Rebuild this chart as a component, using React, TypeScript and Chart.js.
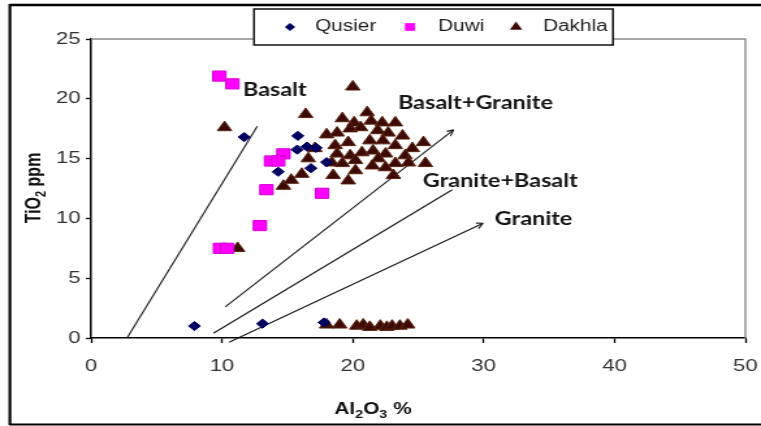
import React, { useEffect, useRef } from "react";
import { Chart, registerables } from "chart.js";

Chart.register(...registerables);

// ---------- data ----------
const seriesNames = ["Qusier", "Duwi", "Dakhla"];

const qusierX = [7.9, 13.1, 17.8, 11.7, 15.8, 15.75, 16.5, 17.2, 14.3, 16.8, 18.0];
const qusierY = [1.0, 1.2, 1.3, 16.8, 16.9, 15.75, 16.0, 15.9, 13.9, 14.2, 14.7];

const duwiX = [9.8, 10.8, 14.7, 13.75, 14.3, 13.4, 17.65, 12.9, 9.85, 10.4];
const duwiY = [21.9, 21.25, 15.4, 14.8, 14.8, 12.4, 12.1, 9.4, 7.5, 7.5];

const dakhlaX = [
  10.2, 11.2, 20.0, 14.7, 15.3, 16.1,
  16.4, 19.2, 21.1, 20.1, 21.4, 22.25, 23.25,
  18.0, 18.8, 19.8, 20.6, 21.9, 22.7, 23.8, 25.4,
  17.1, 18.65, 19.65, 21.3, 22.3, 23.25, 24.55,
  18.8, 19.8, 20.7, 21.55, 22.5, 24.0, 25.55,
  16.6, 18.4, 19.2, 20.2, 21.95, 23.25, 24.25,
  18.5, 20.2, 21.5, 22.5, 23.1, 19.65,
  18.0, 19.0, 20.3, 20.8, 21.3, 22.1, 22.6, 23.0, 23.6, 24.2,
];
const dakhlaY = [
  17.6, 7.5, 21.0, 12.7, 13.2, 13.7,
  18.7, 18.35, 18.85, 18.0, 18.15, 18.0, 18.0,
  17.0, 17.15, 17.5, 17.6, 17.35, 17.15, 16.9, 16.35,
  15.85, 16.1, 16.35, 16.5, 16.5, 16.1, 15.85,
  15.4, 15.25, 15.5, 15.65, 15.4, 15.25, 14.6,
  15.0, 14.65, 14.6, 14.85, 15.0, 14.6, 14.65,
  13.6, 14.0, 14.4, 14.25, 13.6, 13.15,
  1.1, 1.1, 1.0, 1.1, 0.9, 1.0, 0.9, 1.0, 1.0, 1.1,
];

// guide lines: [x1, y1, x2, y2]
const lineBasalt = [2.75, 0, 12.7, 17.7];
const lineBasaltGranite = [10.25, 2.6, 27.7, 17.4];
const lineGraniteBasalt = [9.35, 0.4, 27.6, 12.4];
const lineGranite = [10.55, -0.35, 29.95, 9.6];
const guideLines = [lineBasalt, lineBasaltGranite, lineGraniteBasalt, lineGranite];
const guideArrows = [false, true, false, true];

const regionLabels = ["Basalt", "Basalt+Granite", "Granite+Basalt", "Granite"];
const regionLabelX = [11.6, 23.45, 25.35, 30.85];
const regionLabelY = [20.75, 19.6, 13.15, 9.9];

const xTicks = [0, 10, 20, 30, 40, 50];
const yTicks = [0, 5, 10, 15, 20, 25];

// ---------- layout ----------
const CW = 585; // canvas drawing width; shown stretched to 761 px like the reference
const CH = 426;
const S = 761 / CW;

const QUSIER_COLOR = "#000060";
const DUWI_COLOR = "#ff00ff";
const DAKHLA_COLOR = "#3c0a02";

function pts(xs: number[], ys: number[]) {
  return xs.map((x, i) => ({ x, y: ys[i] }));
}

function drawSubText(
  ctx: CanvasRenderingContext2D,
  parts: [string, boolean][],
  x: number,
  y: number,
  size: number,
  family: string
) {
  const big = `bold ${size}px ${family}`;
  const small = `bold ${Math.round(size * 0.7)}px ${family}`;
  let total = 0;
  for (const [t, sub] of parts) {
    ctx.font = sub ? small : big;
    total += ctx.measureText(t).width;
  }
  let cx = x - total / 2;
  ctx.textAlign = "left";
  ctx.textBaseline = "alphabetic";
  for (const [t, sub] of parts) {
    ctx.font = sub ? small : big;
    ctx.fillText(t, cx, sub ? y + size * 0.22 : y);
    cx += ctx.measureText(t).width;
  }
}

const decorPlugin = {
  id: "decor",
  beforeDraw(chart: any) {
    const { ctx } = chart;
    ctx.save();
    ctx.fillStyle = "#ffffff";
    ctx.fillRect(0, 0, chart.width, chart.height);
    ctx.restore();
  },
  afterDraw(chart: any) {
    const { ctx } = chart;
    const { left, right, top, bottom } = chart.chartArea;
    const xs = chart.scales.x;
    const ys = chart.scales.y;
    ctx.save();

    // plot area top / right border
    ctx.strokeStyle = "#8c8c8c";
    ctx.lineWidth = 1.4;
    ctx.beginPath();
    ctx.moveTo(left, top);
    ctx.lineTo(right, top);
    ctx.lineTo(right, bottom);
    ctx.stroke();

    // arrow heads
    ctx.strokeStyle = "#1a1a1a";
    ctx.lineWidth = 1.1;
    chart.data.datasets.forEach((ds: any, i: number) => {
      if (!ds.arrow) return;
      const meta = chart.getDatasetMeta(i);
      const p0 = meta.data[0];
      const p1 = meta.data[meta.data.length - 1];
      const dx = (p1.x - p0.x) * S;
      const dy = p1.y - p0.y;
      const a = Math.atan2(dy, dx);
      const L = 7;
      ctx.beginPath();
      for (const da of [0.45, -0.45]) {
        const hx = Math.cos(a + Math.PI + da) * L;
        const hy = Math.sin(a + Math.PI + da) * L;
        ctx.moveTo(p1.x, p1.y);
        ctx.lineTo(p1.x + hx / S, p1.y + hy);
      }
      ctx.stroke();
    });

    // region labels
    ctx.fillStyle = "#161616";
    ctx.font = "bold 18px Lato";
    ctx.textAlign = "left";
    ctx.textBaseline = "middle";
    regionLabels.forEach((t, i) => {
      ctx.fillText(t, xs.getPixelForValue(regionLabelX[i]), ys.getPixelForValue(regionLabelY[i]));
    });

    // axis titles
    ctx.fillStyle = "#111111";
    drawSubText(ctx, [["Al", false], ["2", true], ["O", false], ["3", true], [" %", false]], 373 / S, 414, 16, "'Liberation Sans'");
    ctx.save();
    ctx.translate(33 / S, 188);
    ctx.rotate(-Math.PI / 2);
    drawSubText(ctx, [["TiO", false], ["2", true], [" ppm", false]], 0, 6, 16, "'Liberation Sans'");
    ctx.restore();

    // legend
    const lx0 = 254 / S, lx1 = 613 / S, ly0 = 9, ly1 = 45;
    ctx.fillStyle = "#ffffff";
    ctx.fillRect(lx0, ly0, lx1 - lx0, ly1 - ly0);
    ctx.strokeStyle = "#111111";
    ctx.lineWidth = 1.5;
    ctx.strokeRect(lx0, ly0, lx1 - lx0, ly1 - ly0);
    const ly = 27;
    const markerX = [290 / S, 410 / S, 516 / S];
    const textX = [315 / S, 438 / S, 543 / S];
    const styles = ["rectRot", "rect", "triangle"];
    const colors = [QUSIER_COLOR, DUWI_COLOR, DAKHLA_COLOR];
    const radii = [4, 5.5, 5.5];
    seriesNames.forEach((name, i) => {
      ctx.fillStyle = colors[i];
      ctx.strokeStyle = colors[i];
      ctx.lineWidth = 1;
      const r = radii[i];
      const mx = markerX[i];
      ctx.beginPath();
      if (styles[i] === "rectRot") {
        ctx.moveTo(mx, ly - r);
        ctx.lineTo(mx + r, ly);
        ctx.lineTo(mx, ly + r);
        ctx.lineTo(mx - r, ly);
      } else if (styles[i] === "rect") {
        const h = r * Math.SQRT1_2;
        ctx.rect(mx - h, ly - h, 2 * h, 2 * h);
      } else {
        ctx.moveTo(mx, ly - r);
        ctx.lineTo(mx + r * 0.866, ly + r * 0.5);
        ctx.lineTo(mx - r * 0.866, ly + r * 0.5);
      }
      ctx.closePath();
      ctx.fill();
      ctx.fillStyle = "#1e1e1e";
      ctx.font = "16px 'Liberation Sans'";
      ctx.textAlign = "left";
      ctx.textBaseline = "middle";
      ctx.fillText(name, textX[i], ly);
    });

    // outer frame
    ctx.strokeStyle = "#000000";
    ctx.lineWidth = 2.5;
    ctx.beginPath();
    ctx.moveTo(7, 5);
    ctx.lineTo(chart.width + 5, 5);
    ctx.stroke();
    ctx.lineWidth = 2.2;
    ctx.beginPath();
    ctx.moveTo(7.6, 4);
    ctx.lineTo(7.6, 425);
    ctx.stroke();
    ctx.lineWidth = 2;
    ctx.beginPath();
    ctx.moveTo(7, 424.5);
    ctx.lineTo(chart.width + 5, 424.5);
    ctx.stroke();

    ctx.restore();
  },
};

export default function App() {
  const ref = useRef<HTMLCanvasElement | null>(null);

  useEffect(() => {
    const canvas = ref.current;
    if (!canvas) return;

    const lineSets = guideLines.map((l, i) => ({
      type: "scatter" as const,
      label: "guide" + i,
      data: [{ x: l[0], y: l[1] }, { x: l[2], y: l[3] }],
      showLine: true,
      borderColor: "#1a1a1a",
      borderWidth: 1.1,
      pointRadius: 0,
      clip: false as any,
      arrow: guideArrows[i],
    }));

    const chart = new Chart(canvas, {
      type: "scatter",
      data: {
        datasets: [
          {
            label: seriesNames[0],
            data: pts(qusierX, qusierY),
            pointStyle: "rectRot",
            pointRadius: 4.6,
            backgroundColor: QUSIER_COLOR,
            borderColor: QUSIER_COLOR,
            borderWidth: 1,
          },
          {
            label: seriesNames[1],
            data: pts(duwiX, duwiY),
            pointStyle: "rect",
            pointRadius: 7.2,
            backgroundColor: DUWI_COLOR,
            borderColor: "#d400d4",
            borderWidth: 1,
          },
          {
            label: seriesNames[2],
            data: pts(dakhlaX, dakhlaY),
            pointStyle: "triangle",
            pointRadius: 6.4,
            backgroundColor: DAKHLA_COLOR,
            borderColor: "#5a2410",
            borderWidth: 1,
          },
          ...(lineSets as any[]),
        ],
      },
      options: {
        animation: false,
        responsive: false,
        devicePixelRatio: 1,
        layout: { padding: { left: 0, top: 39, right: 12, bottom: 0 } },
        plugins: { legend: { display: false }, tooltip: { enabled: false }, title: { display: false } },
        scales: {
          x: {
            type: "linear",
            min: xTicks[0],
            max: xTicks[xTicks.length - 1],
            afterBuildTicks: (s: any) => {
              s.ticks = xTicks.map((v) => ({ value: v }));
            },
            afterFit: (s: any) => {
              s.height = 88;
              s.paddingLeft = 0;
              s.paddingRight = 0;
            },
            grid: { drawOnChartArea: false, tickLength: 5, tickColor: "#000", tickWidth: 1.3 },
            border: { color: "#000", width: 1.5 },
            ticks: {
              padding: 13,
              color: "#333",
              font: { family: "'Liberation Sans'", size: 17 },
              maxRotation: 0,
            },
          },
          y: {
            type: "linear",
            min: yTicks[0],
            max: yTicks[yTicks.length - 1],
            afterBuildTicks: (s: any) => {
              s.ticks = yTicks.map((v) => ({ value: v }));
            },
            afterFit: (s: any) => {
              s.width = 70;
              s.paddingTop = 0;
              s.paddingBottom = 0;
            },
            grid: { drawOnChartArea: false, tickLength: 4, tickColor: "#000", tickWidth: 1.3 },
            border: { color: "#000", width: 1.5 },
            ticks: {
              padding: 4,
              color: "#333",
              font: { family: "'Liberation Sans'", size: 17 },
            },
          },
        },
      },
      plugins: [decorPlugin],
    } as any);

    return () => chart.destroy();
  }, []);

  return (
    <div style={{ position: "absolute", left: 0, top: 0, width: 761, height: CH, overflow: "hidden" }}>
      <canvas
        ref={ref}
        width={CW}
        height={CH}
        style={{ width: "761px", height: CH + "px", display: "block" }}
      />
    </div>
  );
}
